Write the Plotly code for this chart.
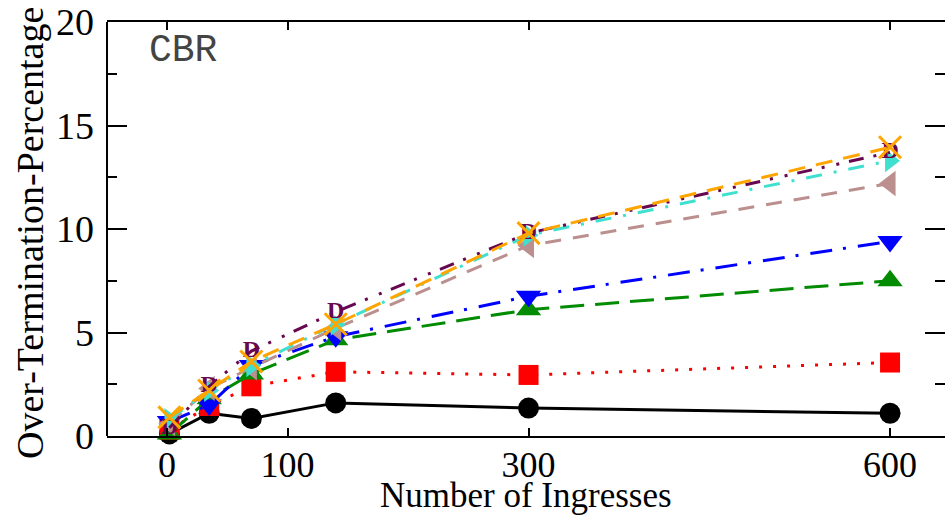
import plotly.graph_objects as go

ingresses = [2, 35, 70, 140, 300, 600]

s_black = [0.1, 1.1, 0.85, 1.6, 1.35, 1.1]
s_red = [0.3, 1.45, 2.4, 3.1, 2.95, 3.55]
s_green = [0.1, 1.8, 3.0, 4.65, 6.1, 7.5]
s_blue = [0.7, 1.5, 3.4, 4.8, 6.75, 9.4]
s_brown = [0.6, 2.3, 3.3, 5.2, 9.2, 12.2]
s_turq = [0.8, 2.2, 3.4, 5.4, 9.7, 13.3]
s_maroon = [0.4, 2.4, 4.1, 6.0, 9.8, 13.7]
s_orange = [0.9, 2.2, 3.6, 5.4, 9.8, 13.95]

x_ticks = [0, 100, 300, 600]
x_tick_text = ["0", "100", "300", "600"]
y_ticks = [0, 5, 10, 15, 20]

SERIF = "Liberation Serif, Times New Roman, serif"

fig = go.Figure()

def add(y, color, dash, symbol, size, width=3, mline=None):
    marker = dict(symbol=symbol, size=size, color=color)
    if mline:
        marker["line"] = mline
    fig.add_trace(go.Scatter(
        x=ingresses, y=y, mode="lines+markers",
        line=dict(color=color, width=width, dash=dash),
        marker=marker, cliponaxis=False, showlegend=False))

add(s_black, "#000000", "solid", "circle", 21)
add(s_red, "#ff0000", "3px,11px", "square", 20)
add(s_green, "#008b00", "24px,11px", "triangle-up", 22)
add(s_blue, "#0000ff", "22px,11px,3px,12px", "triangle-down", 22)
add(s_brown, "#bc8f8f", "16px,12px", "triangle-left", 22)
add(s_turq, "#40e0d0", "16px,12px,3px,12px", "triangle-right", 20)

fig.add_trace(go.Scatter(
    x=ingresses, y=s_maroon, mode="lines+text",
    line=dict(color="#67074f", width=3, dash="15px,10px,3px,12px,3px,10px"),
    text=["<b>D</b>"] * len(ingresses), textposition="middle center",
    textfont=dict(family=SERIF, size=24, color="#67074f"),
    cliponaxis=False, showlegend=False))

add(s_orange, "#ffa500", "17px,11px", "x-thin-open", 22,
    mline=dict(color="#ffa500", width=3))

fig.update_layout(
    width=945, height=517,
    margin=dict(l=107, r=0, t=22, b=81),
    plot_bgcolor="white", paper_bgcolor="white",
    font=dict(family=SERIF, color="black"),
    xaxis=dict(
        range=[-49.8, 645.6], tickvals=x_ticks, ticktext=x_tick_text,
        ticks="inside", ticklen=8, tickwidth=2, tickcolor="black",
        showline=True, linecolor="black", linewidth=2, mirror="allticks",
        showgrid=False, zeroline=False,
        tickfont=dict(family=SERIF, size=36, color="black"),
        ticklabelstandoff=-4,
    ),
    yaxis=dict(
        range=[0, 20], tickvals=y_ticks,
        ticks="inside", ticklen=20, tickwidth=2, tickcolor="black",
        minor=dict(dtick=2.5, ticks="inside", ticklen=10, tickwidth=2, tickcolor="black"),
        showline=False, mirror="ticks",
        showgrid=False, zeroline=False,
        tickfont=dict(family=SERIF, size=38, color="black"),
        ticklabelstandoff=12,
    ),
    shapes=[
        dict(type="line", xref="paper", yref="paper", x0=0, x1=0, y0=0, y1=1,
             line=dict(color="black", width=2)),
    ],
    annotations=[
        dict(text="Number of Ingresses", xref="paper", yref="paper",
             x=0.5, y=-0.1957, xanchor="center", yanchor="bottom",
             showarrow=False, font=dict(family=SERIF, size=35, color="black")),
        dict(text="Over-Termination-Percentage", xref="paper", yref="paper",
             x=-0.092, y=0.49, xanchor="center", yanchor="middle", textangle=-90,
             showarrow=False, font=dict(family=SERIF, size=38, color="black")),
        dict(text="CBR", xref="paper", yref="paper",
             x=0.048, y=0.93, xanchor="left", yanchor="middle",
             showarrow=False, font=dict(family="Liberation Mono, monospace", size=38, color="#444444")),
    ],
)

fig.write_html("out.html", config={"displayModeBar": False},
               post_script="document.body.style.margin='0';")
